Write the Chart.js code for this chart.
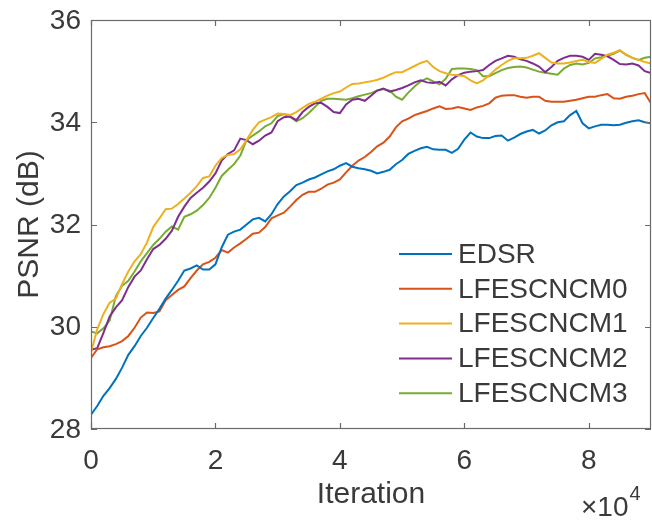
<!DOCTYPE html>
<html>
<head>
<meta charset="utf-8">
<script src="https://cdn.jsdelivr.net/npm/chart.js@4.4.0/dist/chart.umd.min.js"></script>
<style>
html,body{margin:0;padding:0;background:#fff;}
canvas{display:block;}
</style>
</head>
<body>
<canvas id="c" width="652" height="521"></canvas>
<script>
const iterations = [0,1000,2000,3000,4000,5000,6000,7000,8000,9000,10000,11000,12000,13000,14000,15000,16000,17000,18000,19000,20000,21000,22000,23000,24000,25000,26000,27000,28000,29000,30000,31000,32000,33000,34000,35000,36000,37000,38000,39000,40000,41000,42000,43000,44000,45000,46000,47000,48000,49000,50000,51000,52000,53000,54000,55000,56000,57000,58000,59000,60000,61000,62000,63000,64000,65000,66000,67000,68000,69000,70000,71000,72000,73000,74000,75000,76000,77000,78000,79000,80000,81000,82000,83000,84000,85000,86000,87000,88000,89000,90000];

const seriesNames = ["EDSR","LFESCNCM0","LFESCNCM1","LFESCNCM2","LFESCNCM3"];

const edsr = [28.28,28.45,28.65,28.80,28.98,29.20,29.45,29.62,29.82,29.98,30.17,30.35,30.55,30.72,30.90,31.10,31.14,31.20,31.12,31.12,31.22,31.55,31.80,31.86,31.90,32.00,32.10,32.13,32.06,32.20,32.40,32.55,32.65,32.77,32.82,32.88,32.92,32.98,33.04,33.08,33.15,33.20,33.13,33.10,33.08,33.05,33.00,33.03,33.07,33.18,33.26,33.38,33.44,33.49,33.52,33.47,33.46,33.46,33.40,33.48,33.66,33.80,33.72,33.69,33.69,33.73,33.74,33.64,33.70,33.77,33.82,33.85,33.78,33.84,33.94,34.00,34.02,34.14,34.22,33.98,33.88,33.92,33.95,33.95,33.94,33.95,33.99,34.02,34.04,34.00,33.98];

const lfescncm0 = [29.39,29.56,29.60,29.62,29.66,29.72,29.82,29.98,30.18,30.28,30.27,30.30,30.52,30.62,30.72,30.79,30.95,31.10,31.22,31.27,31.35,31.50,31.45,31.55,31.63,31.72,31.82,31.84,31.95,32.12,32.18,32.23,32.35,32.48,32.58,32.64,32.64,32.70,32.78,32.82,32.88,33.02,33.15,33.25,33.32,33.42,33.53,33.60,33.72,33.90,34.02,34.07,34.14,34.18,34.22,34.27,34.31,34.26,34.27,34.30,34.27,34.24,34.29,34.32,34.37,34.48,34.52,34.53,34.53,34.50,34.48,34.50,34.50,34.42,34.40,34.40,34.40,34.42,34.44,34.47,34.50,34.50,34.53,34.55,34.47,34.46,34.50,34.52,34.55,34.57,34.37];

const lfescncm1 = [29.50,29.95,30.25,30.47,30.55,30.84,31.08,31.28,31.42,31.65,31.95,32.12,32.30,32.31,32.40,32.51,32.62,32.75,32.91,32.94,33.15,33.30,33.36,33.38,33.47,33.65,33.85,34.00,34.05,34.10,34.17,34.16,34.14,34.20,34.28,34.36,34.40,34.46,34.52,34.57,34.60,34.68,34.75,34.76,34.78,34.80,34.83,34.87,34.93,34.98,34.98,35.04,35.10,35.16,35.20,35.08,35.00,34.96,34.93,34.92,34.90,34.82,34.76,34.82,34.92,35.03,35.12,35.20,35.25,35.25,35.26,35.30,35.35,35.26,35.17,35.15,35.15,35.17,35.20,35.22,35.18,35.16,35.24,35.32,35.36,35.41,35.32,35.26,35.22,35.18,35.15];

const lfescncm2 = [29.55,29.58,29.88,30.20,30.38,30.52,30.78,30.98,31.10,31.32,31.52,31.60,31.72,31.88,32.15,32.35,32.52,32.62,32.72,32.84,33.00,33.25,33.38,33.45,33.68,33.65,33.57,33.64,33.74,33.80,34.02,34.10,34.11,34.04,34.20,34.30,34.37,34.38,34.30,34.20,34.18,34.35,34.44,34.46,34.42,34.52,34.62,34.66,34.60,34.63,34.67,34.72,34.78,34.82,34.78,34.77,34.79,34.72,34.84,34.92,34.97,34.99,35.00,35.02,35.12,35.20,35.25,35.30,35.28,35.23,35.20,35.15,35.09,34.98,35.08,35.20,35.26,35.30,35.30,35.28,35.22,35.34,35.32,35.29,35.22,35.14,35.13,35.15,35.11,35.00,34.96];

const lfescncm3 = [29.91,29.87,29.97,30.12,30.60,30.80,30.90,31.08,31.28,31.44,31.60,31.72,31.86,31.96,31.90,32.15,32.20,32.27,32.38,32.52,32.72,32.95,33.07,33.18,33.35,33.65,33.74,33.82,33.92,33.98,34.12,34.16,34.11,34.02,34.08,34.18,34.30,34.42,34.46,34.46,34.45,34.44,34.47,34.51,34.54,34.57,34.62,34.65,34.62,34.50,34.44,34.58,34.70,34.80,34.86,34.80,34.74,34.85,35.04,35.05,35.05,35.04,35.02,34.90,34.90,34.96,35.02,35.06,35.08,35.09,35.07,35.03,34.99,34.97,34.95,34.93,35.05,35.12,35.15,35.13,35.16,35.25,35.27,35.30,35.34,35.40,35.32,35.26,35.22,35.26,35.28];

const xTicks = [0,20000,40000,60000,80000];
const xTickLabels = ["0","2","4","6","8"];
const yTicks = [28,30,32,34,36];
const yTickLabels = ["28","30","32","34","36"];

const colors = ["#0072BD","#D95319","#EDB120","#7E2F8E","#77AC30"];
const allSeries = [edsr, lfescncm0, lfescncm1, lfescncm2, lfescncm3];

const FONT = '"Liberation Sans", Arial, Helvetica, sans-serif';
const TEXT = '#3a3a3a';
const AXIS = '#6b6b6b';

const datasets = allSeries.map((vals, i) => ({
  label: seriesNames[i],
  data: vals.map((v, j) => ({x: iterations[j], y: v})),
  borderColor: colors[i],
  backgroundColor: colors[i],
  borderWidth: 2,
  pointRadius: 0,
  tension: 0,
  fill: false
}));

const axesPlugin = {
  id: 'matlabAxes',
  afterDraw(chart) {
    const ctx = chart.ctx;
    const a = chart.chartArea;
    const xs = chart.scales.x, ys = chart.scales.y;
    ctx.save();
    ctx.strokeStyle = AXIS;
    ctx.lineWidth = 1.2;
    ctx.strokeRect(a.left + 0.5, a.top + 0.5, a.right - a.left - 1, a.bottom - a.top - 1);
    const tl = 6;
    ctx.beginPath();
    xTicks.forEach(t => {
      const px = Math.round(xs.getPixelForValue(t)) + 0.5;
      ctx.moveTo(px, a.bottom); ctx.lineTo(px, a.bottom - tl);
      ctx.moveTo(px, a.top); ctx.lineTo(px, a.top + tl);
    });
    yTicks.forEach(t => {
      const py = Math.round(ys.getPixelForValue(t)) + 0.5;
      ctx.moveTo(a.left, py); ctx.lineTo(a.left + tl, py);
      ctx.moveTo(a.right, py); ctx.lineTo(a.right - tl, py);
    });
    ctx.stroke();

    ctx.fillStyle = TEXT;
    ctx.font = '28px ' + FONT;
    ctx.textAlign = 'center';
    ctx.textBaseline = 'middle';
    xTicks.forEach((t, i) => {
      ctx.fillText(xTickLabels[i], xs.getPixelForValue(t), a.bottom + 32);
    });
    ctx.textAlign = 'right';
    yTicks.forEach((t, i) => {
      ctx.fillText(yTickLabels[i], a.left - 10, ys.getPixelForValue(t) + 1);
    });

    ctx.font = '30px ' + FONT;
    ctx.textAlign = 'center';
    ctx.fillText('Iteration', (a.left + a.right) / 2, 495);
    ctx.save();
    ctx.translate(30, (a.top + a.bottom) / 2);
    ctx.rotate(-Math.PI / 2);
    ctx.fillText('PSNR (dB)', 0, 0);
    ctx.restore();

    ctx.textAlign = 'left';
    ctx.textBaseline = 'alphabetic';
    ctx.font = '28px ' + FONT;
    ctx.fillText('\u00d710', 581, 516);
    const w = ctx.measureText('\u00d710').width;
    ctx.font = '20px ' + FONT;
    ctx.fillText('4', 581 + w + 1, 500);

    const lx0 = 399, lx1 = 452, tx = 458, ly0 = 254, dy = 34.8;
    ctx.font = '28px ' + FONT;
    ctx.textBaseline = 'middle';
    chart.data.datasets.forEach((ds, i) => {
      const y = ly0 + i * dy;
      ctx.strokeStyle = ds.borderColor;
      ctx.lineWidth = 2;
      ctx.beginPath();
      ctx.moveTo(lx0, y); ctx.lineTo(lx1, y);
      ctx.stroke();
      ctx.fillStyle = TEXT;
      ctx.fillText(ds.label, tx, y + 1);
    });
    ctx.restore();
  }
};

new Chart(document.getElementById('c'), {
  type: 'line',
  data: { datasets },
  options: {
    responsive: false,
    animation: false,
    layout: { padding: { left: 91, right: 1, top: 20, bottom: 92 } },
    plugins: { legend: { display: false }, tooltip: { enabled: false } },
    scales: {
      x: { type: 'linear', min: 0, max: 90000, display: false },
      y: { type: 'linear', min: 28, max: 36, display: false }
    }
  },
  plugins: [axesPlugin]
});
</script>
</body>
</html>
